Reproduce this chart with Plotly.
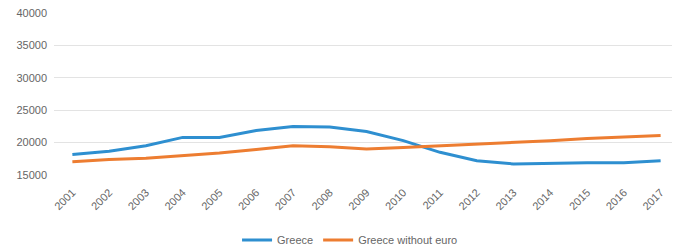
import plotly.graph_objects as go

years = [str(y) for y in range(2001, 2018)]
greece = [18150, 18650, 19500, 20800, 20800, 21850, 22500, 22400, 21700, 20300,
          18500, 17200, 16700, 16850, 16900, 16900, 17200]
greece_no_euro = [17050, 17400, 17600, 18000, 18400, 18950, 19500, 19350, 19000, 19250,
                  19500, 19800, 20050, 20300, 20650, 20900, 21100]
y_ticks = [15000, 20000, 25000, 30000, 35000, 40000]

fig = go.Figure()
fig.add_trace(go.Scatter(x=years, y=greece, mode="lines", name="Greece",
                         line=dict(color="#2E8FD0", width=3)))
fig.add_trace(go.Scatter(x=years, y=greece_no_euro, mode="lines", name="Greece without euro",
                         line=dict(color="#ED7D31", width=3)))

fig.update_layout(
    width=672, height=239,
    margin=dict(l=46, r=1, t=4, b=72, autoexpand=False),
    paper_bgcolor="white", plot_bgcolor="white",
    font=dict(family="Liberation Sans, Arial, sans-serif", size=10, color="#666666"),
    xaxis=dict(type="category", range=[-0.5, 16.5], tickangle=-45, showgrid=False,
               showline=False, ticks="", ticklabelstandoff=8, automargin=False,
               tickfont=dict(size=11, color="#666666")),
    yaxis=dict(range=[15000, 40150], tickvals=y_ticks, tickformat="d", showgrid=True,
               gridcolor="#E3E3E3", gridwidth=1, zeroline=False, showline=False,
               ticks="", ticklabelstandoff=6, automargin=False,
               ticklabeloverflow="allow",
               tickfont=dict(size=11, color="#666666")),
    legend=dict(orientation="h", xref="container", x=0.509, xanchor="center",
                y=-0.399, yanchor="middle",
                font=dict(size=11, color="#666666"), itemwidth=30,
                tracegroupgap=0),
    showlegend=True,
)

fig.write_html("out.html")
